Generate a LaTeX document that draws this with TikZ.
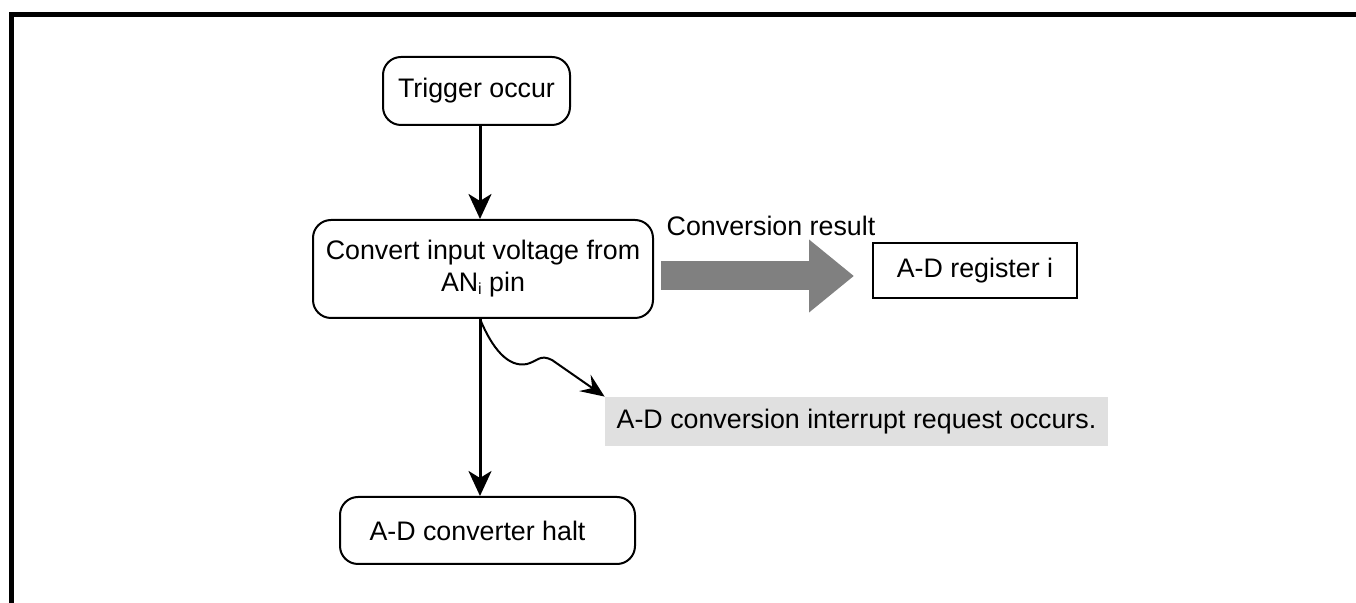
\documentclass[tikz,border=0pt]{standalone}
\usepackage{fontspec}
\setmainfont{Liberation Sans}
\usetikzlibrary{arrows.meta}
\definecolor{notegray}{HTML}{E0E0E0}
\definecolor{flowgray}{HTML}{808080}
\begin{document}
\begin{tikzpicture}[
  x=0.5pt, y=-0.5pt,
  font=\fontsize{13.4}{16}\selectfont,
  rbox/.style={draw, line width=1pt, rounded corners=9pt, align=center},
  sbox/.style={draw, line width=1pt, align=center},
  note/.style={fill=notegray, align=center},
  arrow/.style={-{Stealth[length=12.5pt, width=11.5pt, inset=3.5pt]}, line width=1.5pt},
  wave/.style={-{Stealth[length=12pt, width=10pt, inset=4.5pt]}, line width=1pt},
  fat/.style={-{Triangle[length=22.5pt, width=35pt]}, line width=14.5pt, draw=flowgray}
]
\useasboundingbox (0,0) rectangle (1356,603);
\draw[line width=2.5pt] (11,603) -- (11,14.5) -- (1356,14.5);

\coordinate (axis) at (480,0);
\coordinate (flow) at (0,276);
\node[rbox, minimum width=93.5pt, minimum height=34pt] (trig) at (476.5,91) {Trigger occur};
\node[rbox, minimum width=170pt, minimum height=49pt] (conv) at (483,269) {Convert input voltage from\\AN\raisebox{-0.2ex}{\fontsize{8}{8}\selectfont i} pin};
\node[sbox, minimum width=102pt, minimum height=27.5pt] (reg) at (975,270.5) {A-D register i};
\node (res) at (771,226) {Conversion result};
\node[note, minimum width=251.5pt, minimum height=24.5pt] (intr) at (856.5,421.5) {A-D conversion interrupt request occurs.};
\node[rbox, minimum width=147.5pt, minimum height=33.5pt] (halt) at (487.5,530.5) {A-D converter halt\hspace{10pt}};

\draw[arrow] (trig.south -| axis) -- (conv.north -| axis);
\draw[arrow] (conv.south -| axis) -- (halt.north -| axis);
\draw[fat, shorten <=3.5pt, shorten >=9pt] (conv.east |- flow) -- (reg.west |- flow);
\draw[wave] (conv.south -| axis) .. controls (492,348) and (508,368) .. (527,364)
  .. controls (538,361) and (540,354) .. (552,360) -- (intr.north west);
\end{tikzpicture}
\end{document}
